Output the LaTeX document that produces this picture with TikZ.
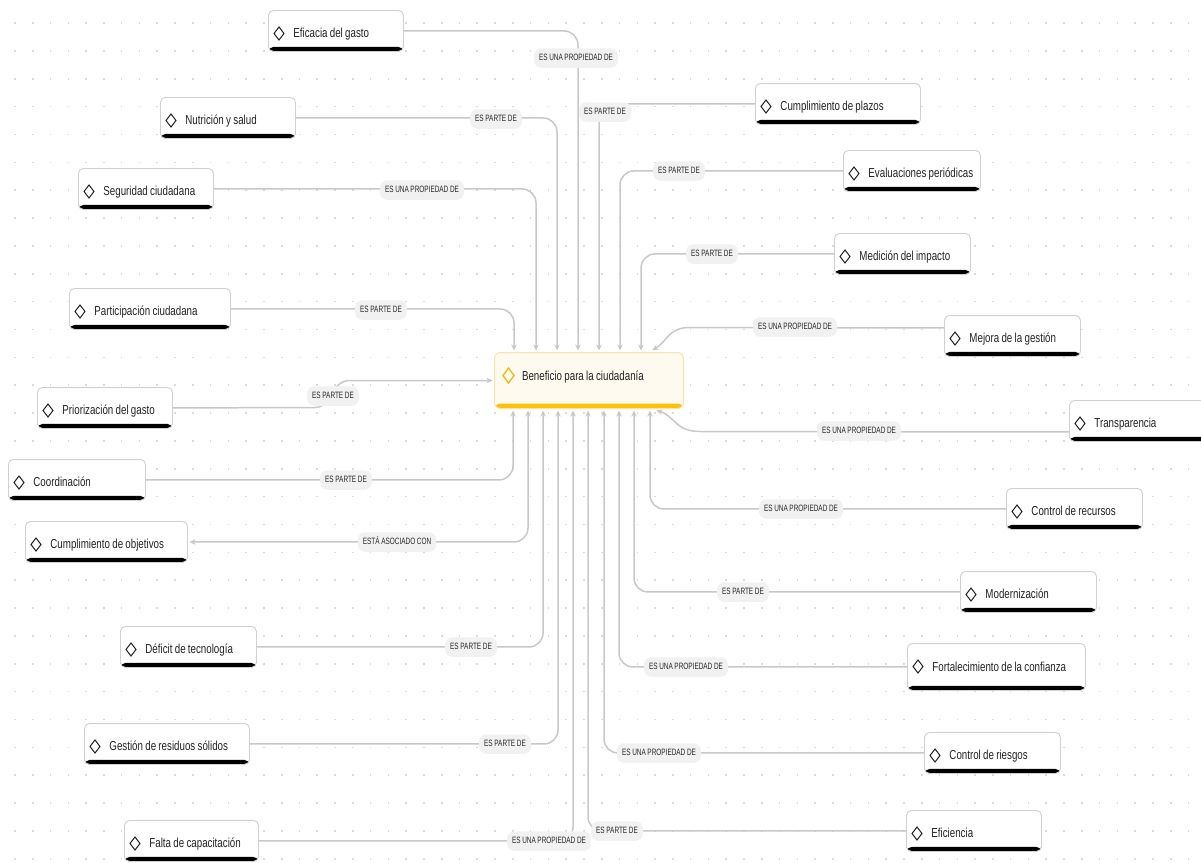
\documentclass[tikz,border=0pt]{standalone}
\usepackage{fontspec}
\setmainfont[FakeStretch=0.75, WordSpace=0.85]{Liberation Sans}
\newfontfamily\lblfont[FakeStretch=0.7, WordSpace=0.9]{Liberation Sans}
\usetikzlibrary{arrows.meta,calc}
\definecolor{gridc}{HTML}{DADADA}
\definecolor{linec}{HTML}{C8C8C8}
\definecolor{boxline}{HTML}{D0D0D0}
\definecolor{txt}{HTML}{222222}
\definecolor{lblbg}{HTML}{F1F1F1}
\definecolor{lbltxt}{HTML}{262626}
\definecolor{ctrfill}{HTML}{FFFAEF}
\definecolor{ctrline}{HTML}{FFE2A6}
\definecolor{ctrbar}{HTML}{FFC107}
\definecolor{ctricon}{HTML}{F5B400}

% fixed-width, left-aligned caption with room for the marker
\newcommand\boxtext[2]{\makebox[#1pt][l]{\hspace*{25pt}#2}}

\begin{document}
\begin{tikzpicture}[x=1pt,y=-1pt,
  >={Stealth[length=6pt,width=5.5pt]},
  box/.style={draw=boxline, line width=0.9pt, fill=white, rounded corners=5pt,
    anchor=north west, inner sep=0pt, minimum height=41pt,
    text height=14pt, text depth=0pt, text=txt,
    font=\fontsize{13}{15}\selectfont,
    path picture={\fill[black] (path picture bounding box.south west)
      rectangle ([yshift=4.5pt]path picture bounding box.south east);}},
  ctr/.style={draw=ctrline, line width=1pt, fill=ctrfill, rounded corners=6pt,
    anchor=north west, inner sep=0pt, minimum height=56pt,
    text height=9pt, text depth=10pt, text=txt,
    font=\fontsize{13}{15}\selectfont,
    path picture={\fill[ctrbar] (path picture bounding box.south west)
      rectangle ([yshift=5pt]path picture bounding box.south east);}},
  conn/.style={draw=linec, line width=1.5pt, rounded corners=14pt, ->, shorten >=1.5pt},
  lbl/.style={fill=lblbg, rounded corners=7pt, inner xsep=5pt, inner ysep=5.5pt,
    text height=7pt, text depth=1.5pt, text=lbltxt,
    font=\lblfont\fontsize{9.2}{10}\selectfont},
  icon/.style={draw=txt, line width=1pt, line join=miter}
]
\useasboundingbox (0,0) rectangle (1201,862);
\clip (0,0) rectangle (1201,862);

% dotted canvas
\foreach \i in {0,...,67}{
  \foreach \j in {0,...,30}{
    \fill[gridc] ({15+\i*17.78-0.8},{23+\j*27.86-0.8}) rectangle ++(1.6,1.6);
  }
}

% central concept
\node[ctr] (ctr) at (494,352) {\makebox[189pt][l]{\hspace*{27.5pt}Beneficio para la ciudadanía}};

% left column
\node[box] (eficacia) at (268,10) {\boxtext{135}{Eficacia del gasto}};
\node[box] (nutricion) at (160,97) {\boxtext{135}{Nutrición y salud}};
\node[box] (seguridad) at (78,168) {\boxtext{135}{Seguridad ciudadana}};
\node[box] (participacion) at (69,288) {\boxtext{161}{Participación ciudadana}};
\node[box] (priorizacion) at (37,387) {\boxtext{135}{Priorización del gasto}};
\node[box] (coordinacion) at (8,459) {\boxtext{137}{Coordinación}};
\node[box] (objetivos) at (25,521) {\boxtext{162}{Cumplimiento de objetivos}};
\node[box] (deficit) at (120,626) {\boxtext{136}{Déficit de tecnología}};
\node[box] (residuos) at (84,723) {\boxtext{165}{Gestión de residuos sólidos}};
\node[box] (capacitacion) at (124,820) {\boxtext{134}{Falta de capacitación}};

% right column
\node[box] (plazos) at (755,83) {\boxtext{165}{Cumplimiento de plazos}};
\node[box] (evaluaciones) at (843,150) {\boxtext{137}{Evaluaciones periódicas}};
\node[box] (impacto) at (834,233) {\boxtext{136}{Medición del impacto}};
\node[box] (mejora) at (944,315) {\boxtext{136}{Mejora de la gestión}};
\node[box] (transparencia) at (1069,400) {\boxtext{140}{Transparencia}};
\node[box] (recursos) at (1006,488) {\boxtext{136}{Control de recursos}};
\node[box] (modernizacion) at (960,571) {\boxtext{136}{Modernización}};
\node[box, minimum height=47pt, text height=10pt] (confianza) at (907,643) {\boxtext{178}{Fortalecimiento de la confianza}};
\node[box] (riesgos) at (924,732) {\boxtext{136}{Control de riesgos}};
\node[box] (eficiencia) at (906,810) {\boxtext{135}{Eficiencia}};

% diamond markers
\foreach \n in {eficacia,nutricion,seguridad,participacion,priorizacion,coordinacion,
  objetivos,deficit,residuos,capacitacion,plazos,evaluaciones,impacto,mejora,
  transparencia,recursos,modernizacion,confianza,riesgos,eficiencia}{
  \draw[icon] ($(\n.north west)+(6,23.5)$) -- ++(5,-6.5) -- ++(5,6.5) -- ++(-5,6.5) -- cycle;
}
\draw[icon, draw=ctricon, line width=1.2pt] ($(ctr.north west)+(9,23.5)$)
  -- ++(5.5,-7.5) -- ++(5.5,7.5) -- ++(-5.5,7.5) -- cycle;

% connectors entering from above
\draw[conn] (eficacia.east) -| ($(ctr.north west)+(84,0)$);
\draw[conn] (nutricion.east) -| ($(ctr.north west)+(63,0)$);
\draw[conn] (seguridad.east) -| ($(ctr.north west)+(42,0)$);
\draw[conn] (participacion.east) -| ($(ctr.north west)+(20,0)$);
\draw[conn] (plazos.west) -| ($(ctr.north west)+(105,0)$);
\draw[conn] (evaluaciones.west) -| ($(ctr.north west)+(126,0)$);
\draw[conn] (impacto.west) -| ($(ctr.north west)+(147,0)$);
\draw[conn, sharp corners] ($(mejora.west)+(0,-8)$) -- (690,327.5)
  .. controls (668,327.5) and (668,341) .. ($(ctr.north west)+(157,-1)$);

% connector entering from the left
\draw[conn, sharp corners] (priorizacion.east) -- (315,407.5)
  .. controls (333,407.5) and (330,380.5) .. (350,380.5) -- (ctr.west);

% connectors entering from below
\draw[conn] (coordinacion.east) -| ($(ctr.south west)+(19,0)$);
\draw[conn, <->, shorten <=1.5pt] ($(ctr.south west)+(34,0)$) |- (objetivos.east);
\draw[conn] (deficit.east) -| ($(ctr.south west)+(49,0)$);
\draw[conn] (residuos.east) -| ($(ctr.south west)+(64,0)$);
\draw[conn] (capacitacion.east) -| ($(ctr.south west)+(79,0)$);
\draw[conn] (eficiencia.west) -| ($(ctr.south west)+(94,0)$);
\draw[conn] (riesgos.west) -| ($(ctr.south west)+(110,0)$);
\draw[conn] (confianza.west) -| ($(ctr.south west)+(125,0)$);
\draw[conn] (modernizacion.west) -| ($(ctr.south west)+(140,0)$);
\draw[conn] (recursos.west) -| ($(ctr.south west)+(156,0)$);
\draw[conn, sharp corners] ($(transparencia.west)+(0,11)$) -- (700,431.5)
  .. controls (675,431.5) and (675,416) .. ($(ctr.south west)+(161,1)$);

% relation labels
\node[lbl] (l1) at (576,58) {ES UNA PROPIEDAD DE};
\node[lbl] (l2) at (496,119) {ES PARTE DE};
\node[lbl] (l3) at (422,190) {ES UNA PROPIEDAD DE};
\node[lbl] (l4) at (381,310) {ES PARTE DE};
\node[lbl] (l5) at (333,396) {ES PARTE DE};
\node[lbl] (l6) at (346,480) {ES PARTE DE};
\node[lbl] (l7) at (397,542) {ESTÁ ASOCIADO CON};
\node[lbl] (l8) at (471,647) {ES PARTE DE};
\node[lbl] (l9) at (505,744) {ES PARTE DE};
\node[lbl] (l10) at (549,841) {ES UNA PROPIEDAD DE};
\node[lbl] (l11) at (605,112) {ES PARTE DE};
\node[lbl] (l12) at (679,171) {ES PARTE DE};
\node[lbl] (l13) at (712,254) {ES PARTE DE};
\node[lbl] (l14) at (795,327) {ES UNA PROPIEDAD DE};
\node[lbl] (l15) at (859,431) {ES UNA PROPIEDAD DE};
\node[lbl] (l16) at (801,509) {ES UNA PROPIEDAD DE};
\node[lbl] (l17) at (743,592) {ES PARTE DE};
\node[lbl] (l18) at (686,667) {ES UNA PROPIEDAD DE};
\node[lbl] (l19) at (659,753) {ES UNA PROPIEDAD DE};
\node[lbl] (l20) at (617,831) {ES PARTE DE};
\end{tikzpicture}
\end{document}
